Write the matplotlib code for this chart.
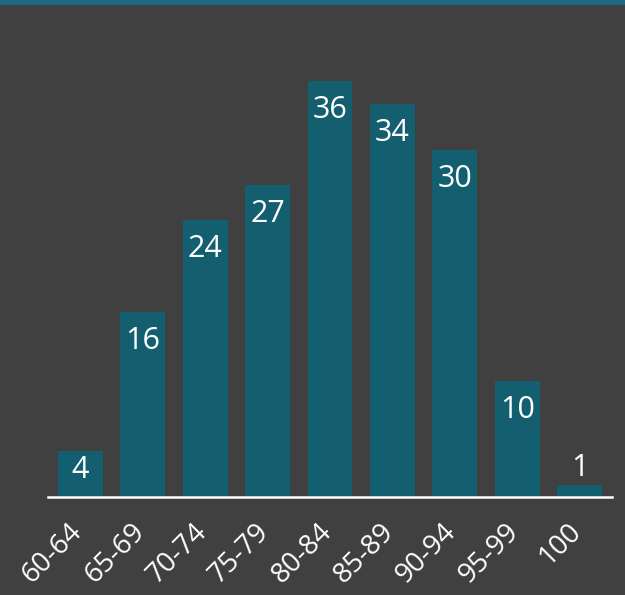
import matplotlib.pyplot as plt
from matplotlib.patches import Rectangle

categories = ['60-64', '65-69', '70-74', '75-79', '80-84', '85-89', '90-94', '95-99', '100']
counts = [4, 16, 24, 27, 36, 34, 30, 10, 1]

bg = '#404040'
bar_color = '#135e6f'
font = ['Open Sans', 'DejaVu Sans']

fig = plt.figure(figsize=(6.25, 5.95), dpi=100, facecolor=bg)
ax = fig.add_axes([0.0768, 0.1647, 0.9024, 0.7765])
ax.set_facecolor(bg)

# thin teal band across the top of the slide
fig.patches.append(Rectangle((0, 0.991), 1, 0.009, transform=fig.transFigure,
                             facecolor='#1c6a86', edgecolor='none'))

x = list(range(len(categories)))
bars = ax.bar(x, counts, width=0.72, color=bar_color)

for b, v in zip(bars, counts):
    cx = b.get_x() + b.get_width() / 2
    if v >= 8:
        ax.annotate(str(v), (cx, v), xytext=(0, -10), textcoords='offset points',
                    ha='center', va='top', color='white', fontsize=22, family=font)
    elif v >= 3:
        ax.text(cx, v * 0.58, str(v), ha='center', va='center',
                color='white', fontsize=22, family=font)
    else:
        ax.annotate(str(v), (cx, v), xytext=(0, 2), textcoords='offset points',
                    ha='center', va='bottom', color='white', fontsize=22, family=font)

ax.set_xlim(-0.52, len(categories) - 0.48)
ax.set_ylim(0, 40)
# labels sit a little right of the bar centres (tick marks are hidden)
ax.set_xticks([i + 0.12 for i in x])
ax.set_xticklabels(categories, rotation=45, ha='right', va='top',
                   fontsize=20, color='white', family=font)
ax.set_yticks([])
ax.tick_params(axis='x', length=0, pad=15)

for s in ['top', 'left', 'right']:
    ax.spines[s].set_visible(False)
ax.spines['bottom'].set_color('white')
ax.spines['bottom'].set_linewidth(1.8)

fig.savefig('out.png', dpi=100, facecolor=bg)
